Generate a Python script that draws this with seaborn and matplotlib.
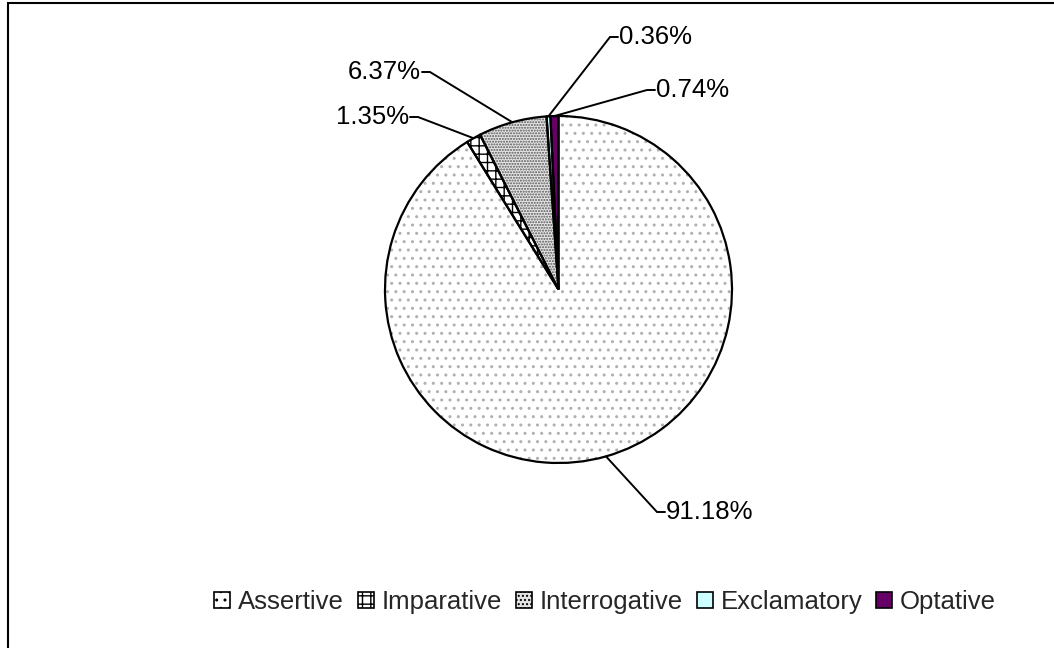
import numpy as np
import matplotlib
matplotlib.use("Agg")
import matplotlib.pyplot as plt
import matplotlib.patches as mpatches
import seaborn as sns

# Sentence types and their shares (%)
categories = ["Assertive", "Imparative", "Interrogative", "Exclamatory", "Optative"]
shares = [91.18, 1.35, 6.37, 0.36, 0.74]
value_labels = ["91.18%", "1.35%", "6.37%", "0.36%", "0.74%"]

sns.set_theme(style="white")
plt.rcParams["font.family"] = ["Liberation Sans", "DejaVu Sans"]
plt.rcParams["hatch.linewidth"] = 1.0

face_colors = ["#ffffff", "#ffffff", "#e6e6e6", "#ccffff", "#660066"]
hatch_colors = ["#b0b0b0", "#000000", "#555555", "#ccffff", "#660066"]
hatches = ["..", "++", "......", "", ""]
legend_hatches = ["..", "++", "....", "", ""]

W, H = 1054, 648
fig = plt.figure(figsize=(W / 100, H / 100), dpi=100)
ax = fig.add_axes([0, 0, 1, 1])

# Pie centre and radius in pixels
cx, cy, r = 558.5, 289.5, 173.5

# Filled, hatched wedges (hatch colour follows the edge colour; edge itself not drawn)
wedges, _ = ax.pie(shares, startangle=90, counterclock=False, radius=1.0,
                   colors=face_colors, wedgeprops=dict(linewidth=0))
for w, hc, ht in zip(wedges, hatch_colors, hatches):
    w.set_edgecolor(hc)
    w.set_hatch(ht)
    w.set_linewidth(0)

# Black outlines on top
ax.pie(shares, startangle=90, counterclock=False, radius=1.0,
       colors=["none"] * len(shares),
       wedgeprops=dict(edgecolor="black", linewidth=1.6, fill=False))

ax.set_xlim(-cx / r, (W - cx) / r)
ax.set_ylim(-(H - cy) / r, cy / r)
ax.set_aspect("auto")
ax.axis("off")


def px(x, y):
    return (x - cx) / r, (cy - y) / r


# Label elbow positions (pixels) and which side the text sits on
label_layout = {
    "Assertive": ((657, 512), "right"),
    "Imparative": ((418, 117), "left"),
    "Interrogative": ((430, 72), "left"),
    "Exclamatory": ((610, 37), "right"),
    "Optative": ((647, 90), "right"),
}

for w, cat, lab in zip(wedges, categories, value_labels):
    mid = np.deg2rad((w.theta1 + w.theta2) / 2)
    ex, ey = np.cos(mid), np.sin(mid)
    (elx, ely), side = label_layout[cat]
    bx, by = px(elx, ely)
    dx = 8 / r if side == "right" else -8 / r
    ax.plot([ex, bx, bx + dx], [ey, by, by], color="black", lw=1.4,
            solid_joinstyle="miter")
    ax.text(bx + dx + (1 / r if side == "right" else -1 / r), by, lab,
            ha="left" if side == "right" else "right", va="center",
            fontsize=18.5, color="black")

# Legend
handles = [mpatches.Patch(facecolor=fc, edgecolor="black", hatch=h, linewidth=1.2)
           for fc, h in zip(face_colors, legend_hatches)]
fig.legend(handles, categories, loc="center", bbox_to_anchor=(605 / W, 46 / H),
           ncol=5, frameon=False, fontsize=18.5, handlelength=0.62, handleheight=0.62,
           handletextpad=0.3, columnspacing=0.55, borderpad=0)

# Outer frame (top and left edges visible)
fig.add_artist(mpatches.Rectangle((7.5 / W, -0.5), 1.5, (H - 2.5) / H + 0.5,
                                  transform=fig.transFigure, fill=False,
                                  edgecolor="black", linewidth=1.5))

fig.savefig("out.png", dpi=100)
